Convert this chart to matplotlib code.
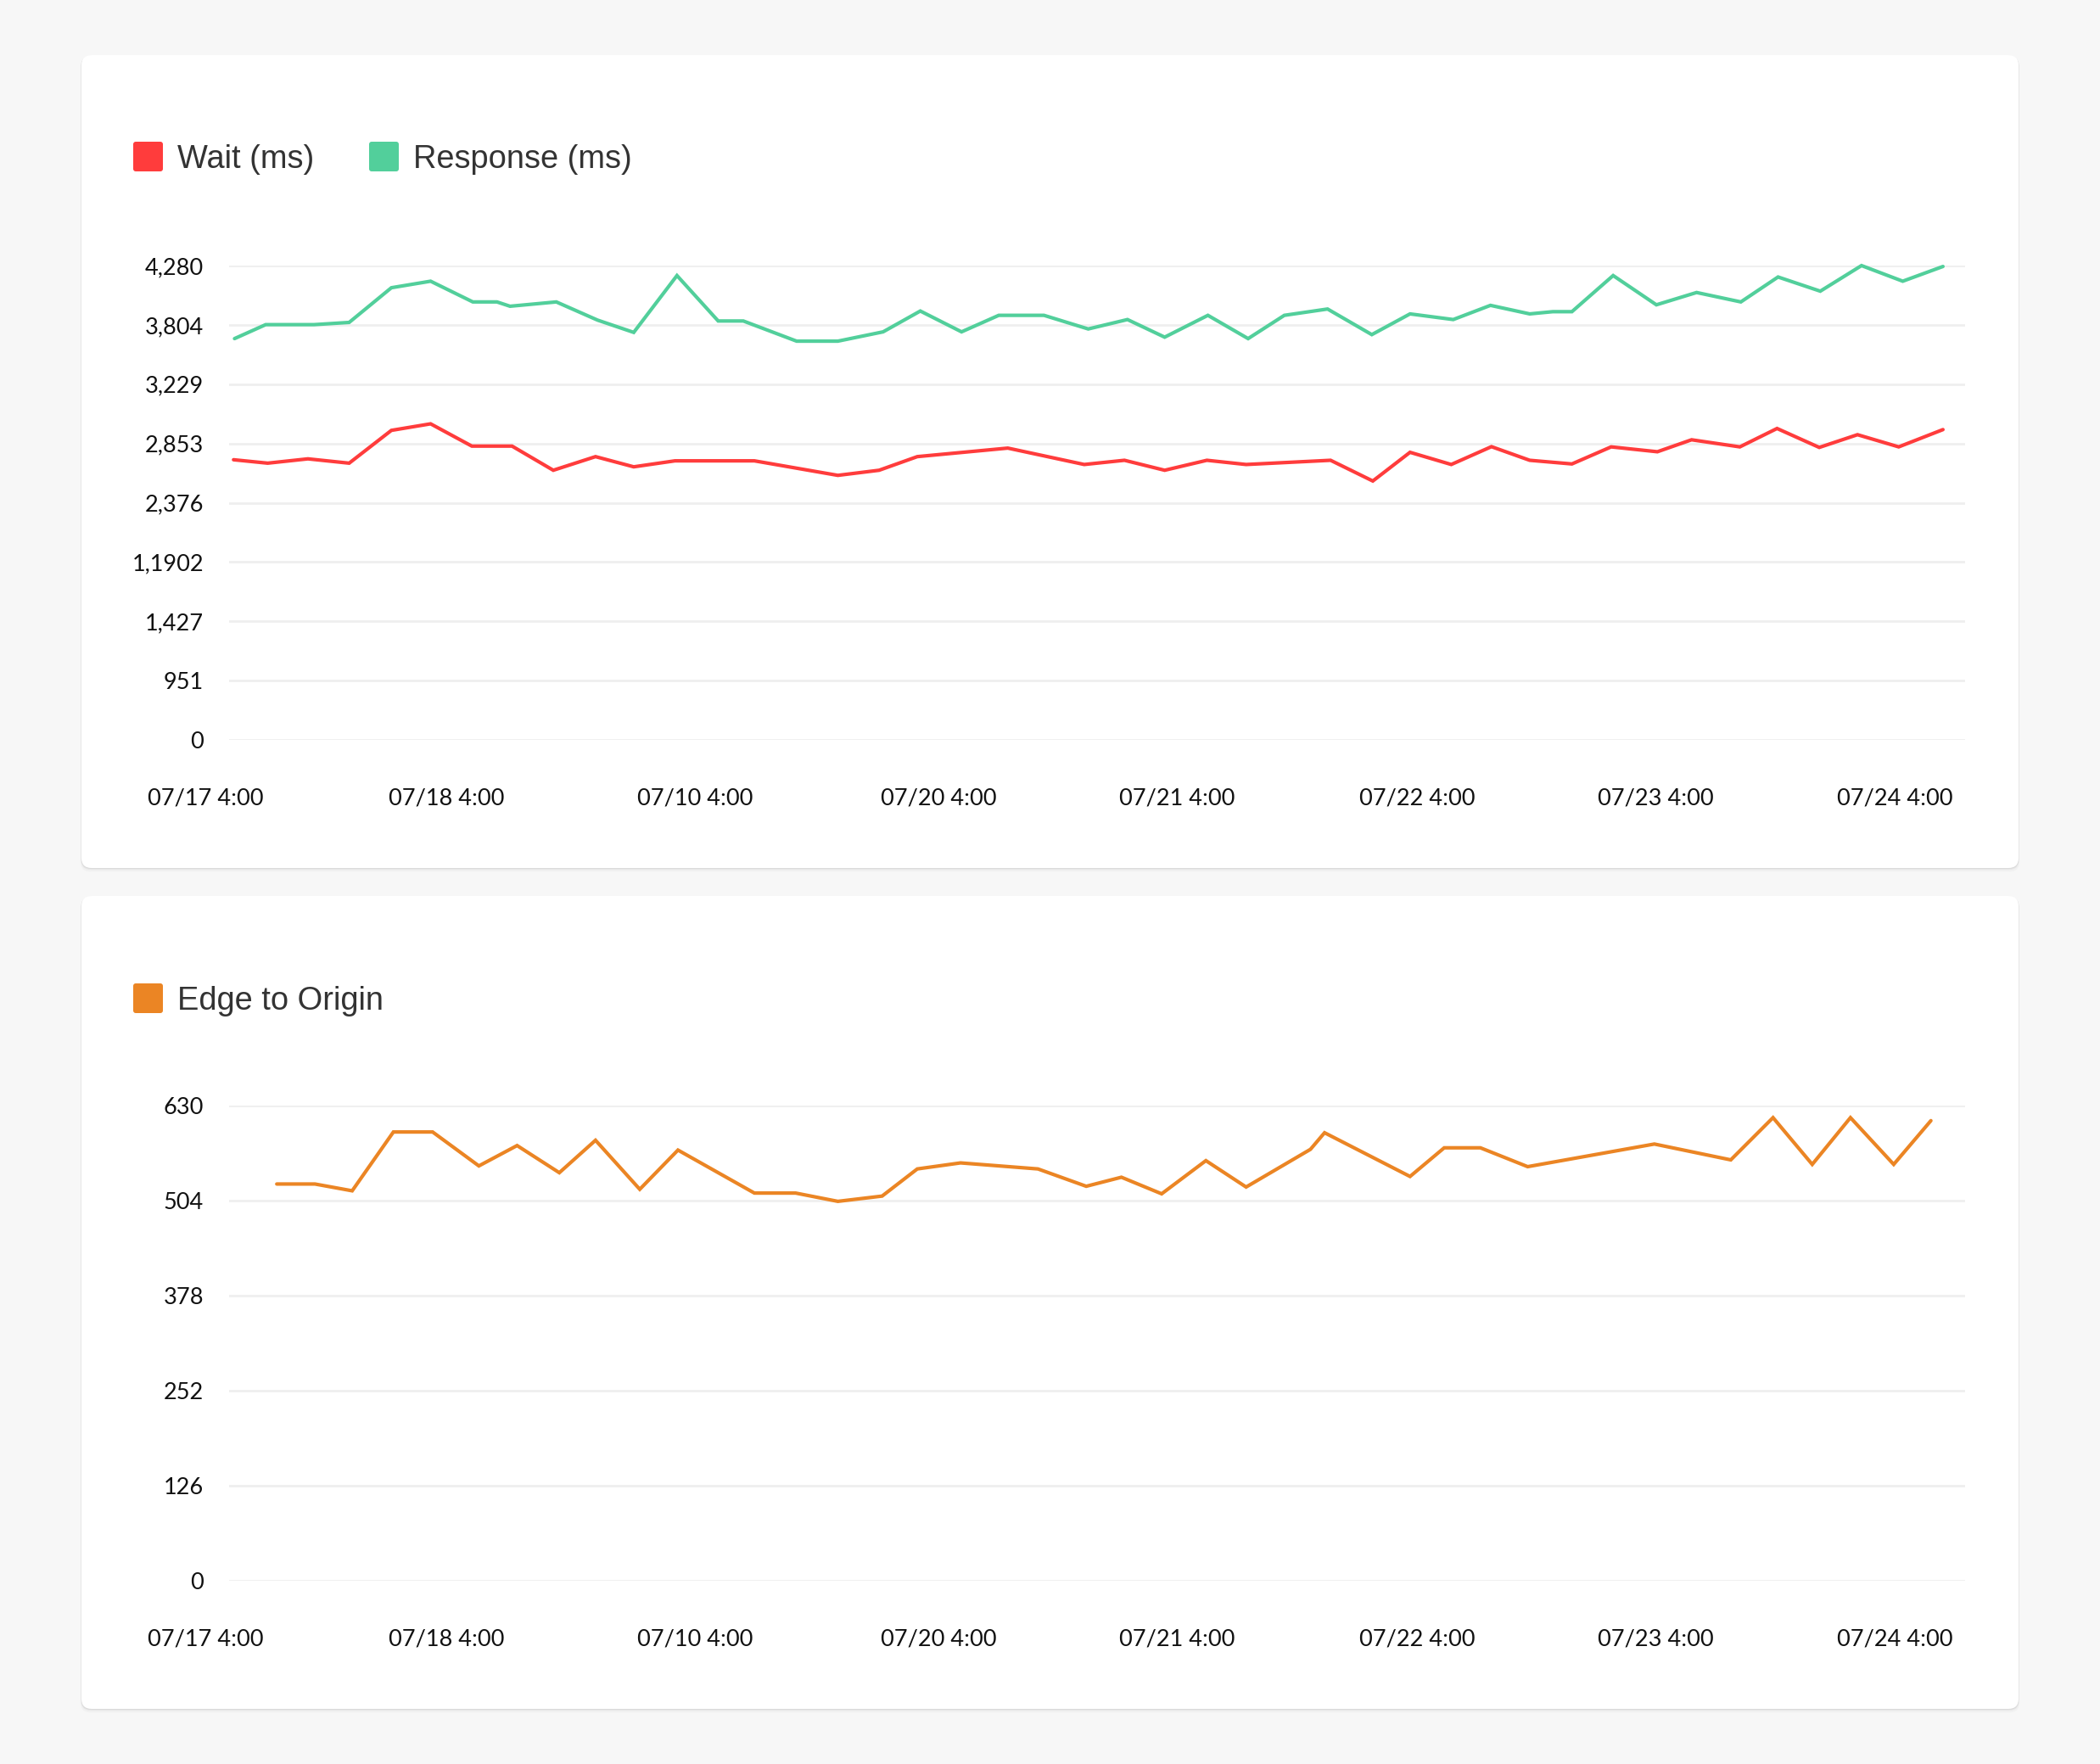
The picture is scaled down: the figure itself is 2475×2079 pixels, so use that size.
import matplotlib
matplotlib.use("Agg")
import matplotlib.pyplot as plt
from matplotlib.patches import FancyBboxPatch
from matplotlib.transforms import Affine2D

# ---------------- data ----------------
x_labels = ["07/17 4:00", "07/18 4:00", "07/10 4:00", "07/20 4:00",
            "07/21 4:00", "07/22 4:00", "07/23 4:00", "07/24 4:00"]
x_label_hours = [0, 24, 48.7, 72.9, 96.6, 120.5, 144.2, 168]

top_tick_values = [0, 535, 1070, 1605, 2140, 2675, 3210, 3745, 4280]
top_tick_labels = ["0", "951", "1,427", "1,1902", "2,376", "2,853", "3,229", "3,804", "4,280"]

bottom_tick_values = [0, 126, 252, 378, 504, 630]
bottom_tick_labels = ["0", "126", "252", "378", "504", "630"]

response_hours = [2.9, 6.0, 10.8, 14.3, 18.5, 22.4, 26.6, 29.0, 30.3, 34.9, 39.0, 42.6,
                  46.9, 51.0, 53.5, 58.8, 62.9, 67.4, 71.1, 75.2, 78.9, 83.4, 87.8, 91.7,
                  95.4, 99.7, 103.7, 107.3, 111.6, 116.0, 119.8, 124.1, 127.8, 131.7, 134.0,
                  135.9, 140.0, 144.3, 148.3, 152.7, 156.4, 160.6, 164.7, 168.8, 172.8]
response_ms = [3621, 3747, 3747, 3767, 4080, 4139, 3952, 3952, 3913, 3952, 3788, 3677,
               4190, 3780, 3780, 3598, 3598, 3682, 3870, 3682, 3831, 3831, 3708, 3793,
               3634, 3831, 3621, 3831, 3888, 3657, 3844, 3793, 3921, 3844, 3864,
               3864, 4190, 3926, 4037, 3952, 4177, 4049, 4280, 4139, 4272]

wait_hours = [2.8, 6.2, 10.2, 14.3, 18.5, 22.4, 26.5, 30.5, 34.6, 38.8, 42.6, 46.7,
              54.6, 62.9, 67.0, 70.8, 79.8, 87.4, 91.4, 95.4, 99.6, 103.5, 111.9, 116.1,
              119.8, 123.9, 127.9, 131.7, 135.9, 139.8, 144.4, 147.8, 152.6, 156.3,
              160.5, 164.3, 168.4, 172.8]
wait_ms = [2528, 2497, 2536, 2497, 2793, 2852, 2651, 2651, 2433, 2556, 2464, 2518,
           2518, 2387, 2433, 2556, 2633, 2485, 2523, 2433, 2523, 2485, 2523, 2336,
           2595, 2485, 2646, 2523, 2490, 2644, 2600, 2708, 2644, 2810,
           2639, 2754, 2644, 2800]

edge_hours = [7.1, 10.9, 14.6, 18.7, 22.6, 27.2, 31.0, 35.2, 38.8, 43.2, 47.0, 54.6,
              58.7, 62.9, 67.3, 70.8, 75.1, 82.8, 87.6, 91.1, 95.1, 99.5, 103.5, 109.9,
              111.3, 119.8, 123.2, 126.8, 131.5, 144.1, 151.7, 155.9, 159.8, 163.6,
              167.9, 171.6]
edge_origin = [526, 526, 517, 595, 595, 550, 577, 541, 584, 519, 571, 514,
               514, 503, 510, 546, 554, 546, 523, 535, 513, 557, 522, 572,
               594, 536, 574, 574, 549, 579, 558, 614, 552, 614,
               552, 610]

# ---------------- style ----------------
W, H, DPI = 2475, 2079, 100
BG = "#f7f7f7"
RED = "#ff3c3c"
GREEN = "#52cf9b"
ORANGE = "#eb8524"
GRID = "#efefef"
TICK_FONT = "Lato"
LEGEND_FONT = "Liberation Sans"

plt.rcParams["font.family"] = [TICK_FONT, "DejaVu Sans"]

fig = plt.figure(figsize=(W / DPI, H / DPI), dpi=DPI, facecolor=BG)
# pixel coords (origin top-left) -> display
pix = Affine2D().scale(1 / DPI, -1 / DPI).translate(0, H / DPI) + fig.dpi_scale_trans


def card(x0, y0, x1, y1):
    for off, alpha in [(4, 0.025), (2, 0.04), (1, 0.05)]:
        sh = FancyBboxPatch((x0 - off * 0.3, y0 + off * 0.5), x1 - x0 + off * 0.6, y1 - y0 + off * 0.6,
                            boxstyle="round,pad=0,rounding_size=12",
                            facecolor=(0, 0, 0, alpha), edgecolor="none", transform=pix, zorder=-3)
        fig.patches.append(sh)
    p = FancyBboxPatch((x0, y0), x1 - x0, y1 - y0, boxstyle="round,pad=0,rounding_size=12",
                       facecolor="white", edgecolor="none", transform=pix, zorder=-2)
    fig.patches.append(p)


def legend_item(x, y, color, label):
    sq = FancyBboxPatch((x, y), 35, 35, boxstyle="round,pad=0,rounding_size=3",
                        facecolor=color, edgecolor="none", transform=pix, zorder=3)
    fig.patches.append(sq)
    fig.text(x + 52, y + 21.5, label, transform=pix, ha="left", va="center",
             fontsize=27.4, color="#333333", family=[LEGEND_FONT, "DejaVu Sans"], zorder=4)


def make_axes(top_px, bottom_px):
    left, right = 270, 2316
    ax = fig.add_axes([left / W, 1 - bottom_px / H, (right - left) / W, (bottom_px - top_px) / H])
    ax.set_zorder(2)
    ax.set_facecolor("none")
    for s in ax.spines.values():
        s.set_visible(False)
    ax.set_xlim(2.36, 175.0)
    ax.set_xticks([])
    ax.tick_params(axis="y", length=0, pad=21.6, labelsize=19.5, labelcolor="#111111")
    ax.grid(axis="y", color=GRID, linewidth=2.0)
    ax.set_axisbelow(True)
    for h, lab in zip(x_label_hours, x_labels):
        ax.annotate(lab, xy=(h, 0), xycoords=("data", "axes fraction"),
                    xytext=(0, -69 * 0.72), textcoords="offset points",
                    ha="center", va="center", fontsize=19.5, color="#111111",
                    annotation_clip=False)
    return ax


card(96, 65, 2379, 1023)
card(96, 1056, 2379, 2014)

legend_item(157, 167, RED, "Wait (ms)")
legend_item(435, 167, GREEN, "Response (ms)")
legend_item(157, 1159, ORANGE, "Edge to Origin")

line_kw = dict(linewidth=3.0, solid_joinstyle="miter", solid_capstyle="round", clip_on=False)

ax1 = make_axes(313, 872)
ax1.set_ylim(0, 4280)
ax1.set_yticks(top_tick_values, top_tick_labels)
ax1.plot(wait_hours, wait_ms, color=RED, **line_kw)
ax1.plot(response_hours, response_ms, color=GREEN, **line_kw)

ax2 = make_axes(1303, 1863)
ax2.set_ylim(0, 630)
ax2.set_yticks(bottom_tick_values, bottom_tick_labels)
ax2.plot(edge_hours, edge_origin, color=ORANGE, **line_kw)

fig.savefig("out.png", dpi=DPI, facecolor=BG)
